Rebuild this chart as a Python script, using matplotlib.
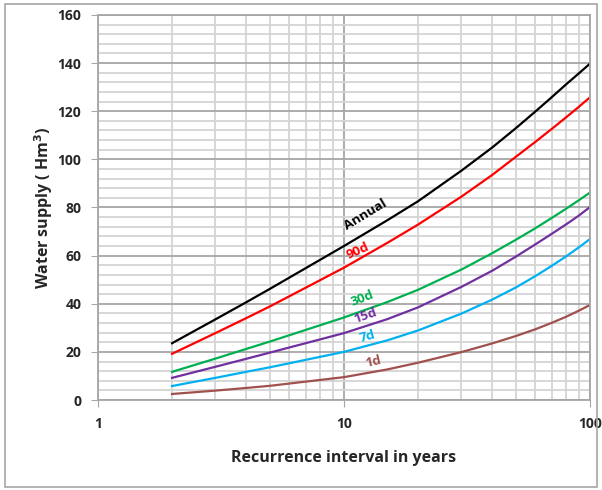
import matplotlib.pyplot as plt
import numpy as np
from matplotlib.patches import Rectangle
from matplotlib.ticker import FixedLocator, NullFormatter

plt.rcParams["font.family"] = ["Open Sans", "DejaVu Sans"]
plt.rcParams["font.weight"] = "bold"

# recurrence interval (years) and water supply (Hm3)
T = [2, 3, 4, 5, 10, 15, 20, 30, 40, 50, 60, 70, 80, 90, 100]
annual = [23.6, 33.5, 40.6, 46.2, 64.0, 74.7, 82.6, 95.3, 104.9, 113.0, 119.9, 125.9, 131.2, 135.7, 139.8]
d90 = [19.2, 27.8, 34.0, 38.9, 55.0, 65.3, 72.9, 84.5, 93.5, 101.1, 107.3, 112.7, 117.5, 121.8, 125.8]
d30 = [11.7, 17.2, 21.2, 24.3, 34.3, 40.7, 45.8, 54.2, 61.0, 66.6, 71.4, 75.7, 79.5, 83.0, 86.2]
d15 = [9.2, 13.8, 17.1, 19.7, 27.8, 33.6, 38.5, 47.0, 53.7, 59.6, 64.7, 69.1, 73.0, 76.6, 80.2]
d7 = [5.8, 9.2, 11.7, 13.6, 20.0, 24.8, 28.9, 35.9, 41.7, 46.8, 51.5, 55.8, 59.7, 63.4, 66.9]
d1 = [2.5, 3.9, 5.0, 5.9, 9.5, 12.7, 15.5, 19.9, 23.5, 26.6, 29.4, 32.1, 34.6, 37.1, 39.5]

series = [
    ("Annual", annual, "#000000", (12.2, 77.0), 31),
    ("90d", d90, "#ff0000", (11.4, 61.8), 24),
    ("30d", d30, "#00b050", (11.9, 42.0), 21),
    ("15d", d15, "#7030a0", (12.2, 35.0), 19),
    ("7d", d7, "#00b0f0", (12.4, 26.4), 15),
    ("1d", d1, "#a0504d", (13.2, 16.0), 13),
]

fig = plt.figure(figsize=(6.02, 4.90), dpi=100)
ax = fig.add_axes([98 / 602, 90 / 490, 492 / 602, 385 / 490])

# outer frame around the whole chart
fig.patches.append(Rectangle((5 / 602, 3 / 490), 592 / 602, 483 / 490, transform=fig.transFigure,
                             fill=False, edgecolor="#a6a6a6", linewidth=1.2))

ax.set_xscale("log")
ax.set_xlim(1, 100)
ax.set_ylim(0, 160)

ax.xaxis.set_major_locator(FixedLocator([1, 10, 100]))
ax.xaxis.set_minor_locator(FixedLocator([v * d for d in (1, 10) for v in range(2, 10)]))
ax.xaxis.set_minor_formatter(NullFormatter())
ax.set_xticklabels(["1", "10", "100"])
ax.set_yticks(np.arange(0, 161, 20))
ax.set_yticks(np.arange(0, 161, 4), minor=True)

ax.grid(which="major", color="#a6a6a6", linewidth=1.3)
ax.grid(which="minor", color="#d4d4d4", linewidth=1.3)
ax.set_axisbelow(True)

for s in ax.spines.values():
    s.set_color("#a6a6a6")
    s.set_linewidth(1.3)

ax.tick_params(which="major", length=5, color="#a6a6a6", labelsize=10, pad=7, labelcolor="#262626")
ax.tick_params(which="minor", length=0)

for name, vals, col, pos, rot in series:
    ax.plot(T, vals, color=col, linewidth=1.6, solid_joinstyle="round")
    ax.text(pos[0], pos[1], name, color=col, fontsize=9.5, fontweight="bold",
            rotation=rot, ha="center", va="center", rotation_mode="anchor")

ax.set_xlabel("Recurrence interval in years", fontsize=11.5, fontweight="bold", labelpad=14, color="#262626")
ax.set_ylabel("Water supply ( Hm$^{\\mathbf{3}}$)", fontsize=11.5, fontweight="bold", labelpad=2, color="#262626")

fig.savefig("out.png", dpi=100)
